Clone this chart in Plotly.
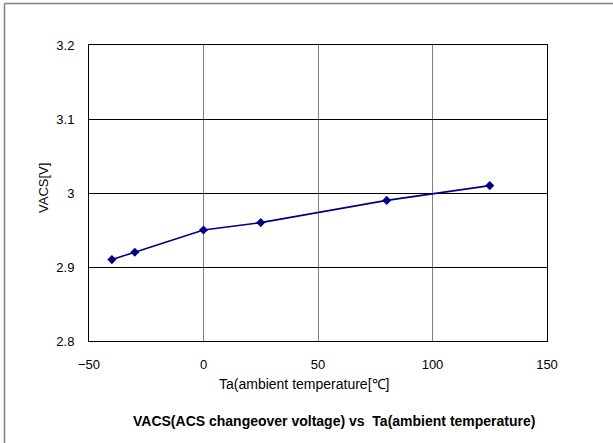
import plotly.graph_objects as go

# Ambient temperature (°C) and ACS changeover voltage (V)
ta_values = [-40, -30, 0, 25, 80, 125]
vacs_values = [2.91, 2.92, 2.95, 2.96, 2.99, 3.01]

x_ticks = [-50, 0, 50, 100, 150]
y_ticks = [2.8, 2.9, 3.0, 3.1, 3.2]
y_tick_text = ["2.8", "2.9", "3", "3.1", "3.2"]

font_family = "Liberation Sans, Arial, sans-serif"

fig = go.Figure()
fig.add_trace(go.Scatter(
    x=ta_values, y=vacs_values,
    mode="lines+markers",
    line=dict(color="#000080", width=1.6),
    marker=dict(symbol="diamond", size=7, color="#000080"),
    showlegend=False,
))

# outer frame: only the left and top edges fall inside the page
frame = dict(color="#808080", width=1.5)

fig.update_layout(
    width=613, height=443,
    margin=dict(l=89, r=66, t=45, b=102),
    paper_bgcolor="white", plot_bgcolor="white",
    font=dict(family=font_family, size=13, color="black"),
    xaxis=dict(
        range=[-50, 150], tickvals=x_ticks, ticks="",
        showgrid=True, gridcolor="#808080", gridwidth=1,
        showline=True, linecolor="black", linewidth=1, mirror=True,
        zeroline=False, ticklabelstandoff=11,
    ),
    yaxis=dict(
        range=[2.8, 3.2], tickvals=y_ticks, ticktext=y_tick_text, ticks="",
        showgrid=True, gridcolor="black", gridwidth=1,
        showline=True, linecolor="black", linewidth=1, mirror=True,
        zeroline=False, ticklabelstandoff=11,
    ),
    shapes=[
        dict(type="line", xref="paper", yref="paper",
             x0=-84.5 / 458, x1=1.4, y0=1 + 41.5 / 296, y1=1 + 41.5 / 296,
             line=frame),
        dict(type="line", xref="paper", yref="paper",
             x0=-84.5 / 458, x1=-84.5 / 458, y0=-0.5, y1=1 + 41.5 / 296,
             line=frame),
    ],
    annotations=[
        dict(text="VACS[V]", xref="paper", yref="paper",
             x=-46 / 458, y=(341 - 188) / 296, textangle=-90, showarrow=False,
             xanchor="center", yanchor="middle", font=dict(size=13)),
        dict(text="Ta(ambient temperature[℃]", xref="paper", yref="paper",
             x=(304 - 89) / 458, y=-43 / 296, showarrow=False,
             xanchor="center", yanchor="middle", font=dict(size=14)),
        dict(text="<b>VACS(ACS changeover voltage) vs  Ta(ambient temperature)</b>",
             xref="paper", yref="paper",
             x=(334 - 89) / 458, y=-80 / 296, showarrow=False,
             xanchor="center", yanchor="middle", font=dict(size=14)),
    ],
)

fig.write_html("out.html")
